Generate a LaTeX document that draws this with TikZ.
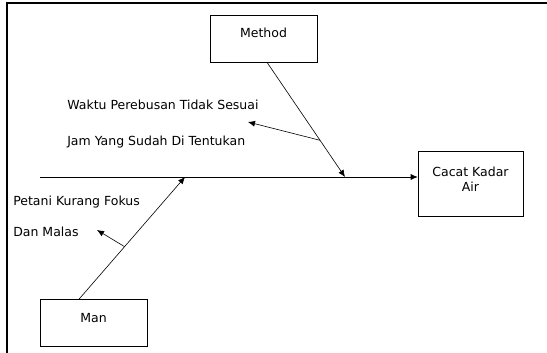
\documentclass[tikz,border=0pt]{standalone}
\usepackage{fontspec}
\setmainfont{DejaVu Sans}
\usetikzlibrary{arrows.meta}

\begin{document}
\begin{tikzpicture}[x=1pt, y=-1pt, >={Latex[length=7pt,width=6pt]}, line width=0.6pt,
    font=\fontsize{12.5}{15}\selectfont,
    box/.style={draw, minimum width=107pt, minimum height=47pt, inner sep=0pt},
    cause/.style={anchor=west, inner sep=0pt}]
    \useasboundingbox (0,0) rectangle (547,353);
    % Frame
    \draw[line width=1.8pt] (7,353) -- (7,3) -- (547,3);

    % Boxes
    \node[box, text depth=11pt] (method) at (263.5,38.5) {Method};
    \node[box, text depth=11pt] (man) at (93.5,323) {Man};
    \node[box, minimum width=105pt, minimum height=65pt, align=center, text depth=8pt] (effect) at (470.5,183.5) {Cacat Kadar\\Air};

    % Spine
    \coordinate (tail) at (40,177);
    \draw[->] (tail) -- (effect.west |- tail);

    % Bones
    \coordinate (mhead) at (345,177);
    \coordinate (nhead) at (185,177);
    \draw[->] ([xshift=3.5pt]method.south) -- coordinate[pos=0.68] (mjoint) (mhead);
    \draw[->] ([xshift=-14.5pt]man.north) -- coordinate[pos=0.43] (njoint) (nhead);

    % Causes
    \node[cause] (waktu) at (67,105) {Waktu Perebusan Tidak Sesuai};
    \node[cause] (jam) at (67,142) {Jam Yang Sudah Di Tentukan};
    \node[cause] (petani) at (13,202) {Petani Kurang Fokus};
    \node[cause] (malas) at (13,232) {Dan Malas};

    \coordinate (wtip) at (248,122);
    \coordinate (ptip) at (97,230);
    \draw[->] (mjoint) -- (wtip);
    \draw[->] (njoint) -- (ptip);
\end{tikzpicture}
\end{document}
